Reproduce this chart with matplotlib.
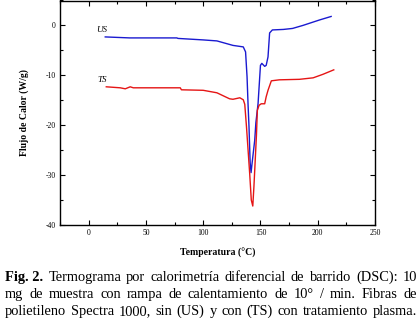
import matplotlib
matplotlib.use("Agg")
import matplotlib.pyplot as plt
from matplotlib.ticker import MultipleLocator

plt.rcParams['font.family'] = ['Liberation Serif', 'DejaVu Serif']
plt.rcParams['axes.unicode_minus'] = False

# curva sin tratamiento (US)
t_us = [14.5, 36, 77, 78, 100, 112, 126, 135, 137, 138.3, 139.2, 140, 141, 141.8,
        143, 145, 146, 147.9, 150, 151.2, 153.7, 155, 156.6, 158, 160.4, 170, 178,
        187, 201.6, 211.7]
q_us = [-2.3, -2.5, -2.5, -2.6, -2.9, -3.1, -4.0, -4.3, -5.3, -10.3, -16.0, -20.3,
        -27.5, -29.5, -27.0, -23.0, -19.5, -15.7, -8.0, -7.6, -8.2, -8.0, -6.3,
        -1.5, -0.9, -0.8, -0.6, 0.0, 1.1, 1.8]

# curva con tratamiento plasma (TS)
t_ts = [15.4, 27.6, 32, 36.3, 39, 80, 81, 100, 112, 123, 126, 132, 135, 136.3,
        137.8, 140.6, 142, 143.3, 144.3, 146.5, 147.3, 148.8, 150.7, 153.7, 155,
        156.6, 159.5, 166.5, 184, 196, 204.5, 214]
q_ts = [-12.3, -12.5, -12.7, -12.3, -12.5, -12.5, -12.9, -13.0, -13.5, -14.7,
        -14.8, -14.5, -14.9, -15.8, -20.3, -29.7, -35.0, -36.2, -32.3, -22.0,
        -17.0, -16.0, -15.7, -15.7, -14.3, -13.0, -11.1, -10.9, -10.8, -10.5,
        -9.8, -8.9]

caption = [
    [("Fig. 2.", "bold"), ("Termograma", "normal"), ("por", "normal"), ("calorimetría", "normal"),
     ("diferencial", "normal"), ("de", "normal"), ("barrido", "normal"), ("(DSC):", "normal"),
     ("10", "normal")],
    [(w, "normal") for w in "mg de muestra con rampa de calentamiento de 10° / min. Fibras de".split()],
    [(w, "normal") for w in "polietileno Spectra 1000, sin (US) y con (TS) con tratamiento plasma.".split()],
]

fig = plt.figure(figsize=(4.2, 3.18), dpi=100)
ax = fig.add_axes([60 / 420, 1 - 225 / 318, 315 / 420, 224.5 / 318])

ax.plot(t_us, q_us, color='#1a1ad0', lw=1.0)
ax.plot(t_ts, q_ts, color='#e51515', lw=1.0)
ax.text(7, -0.9, "US", fontsize=6.5, style='italic', va='center')
ax.text(8, -11.0, "TS", fontsize=6.5, style='italic', va='center')

ax.set_xlim(-25, 250)
ax.set_ylim(-40, 5)
ax.xaxis.set_major_locator(MultipleLocator(50))
ax.xaxis.set_minor_locator(MultipleLocator(25))
ax.yaxis.set_major_locator(MultipleLocator(10))
ax.yaxis.set_minor_locator(MultipleLocator(5))
ax.tick_params(which='both', direction='in', top=True, right=True, labelsize=5.5, pad=3)
ax.tick_params(which='major', length=3.5, width=0.8)
ax.tick_params(which='minor', length=2.5, width=0.8)
for s in ax.spines.values():
    s.set_linewidth(1.0)

ax.set_xlabel("Temperatura (°C)", fontsize=7, fontweight='bold', labelpad=8)
ax.set_ylabel("Flujo de Calor (W/g)", fontsize=7, fontweight='bold', labelpad=12)

# pie de figura justificado
fig.canvas.draw()
r = fig.canvas.get_renderer()
x0, x1 = 5, 417
baselines = [281, 298, 315]
for words, yb in zip(caption, baselines):
    items = []
    for w, wt in words:
        t = fig.text(0, 1 - yb / 318, w, fontsize=10.4, fontweight=wt, va='baseline')
        items.append(t)
    widths = [t.get_window_extent(r).width for t in items]
    gap = (x1 - x0 - sum(widths)) / (len(items) - 1)
    x = x0
    for t, wd in zip(items, widths):
        t.set_x(x / 420)
        x += wd + gap

fig.savefig("out.png", dpi=100)
